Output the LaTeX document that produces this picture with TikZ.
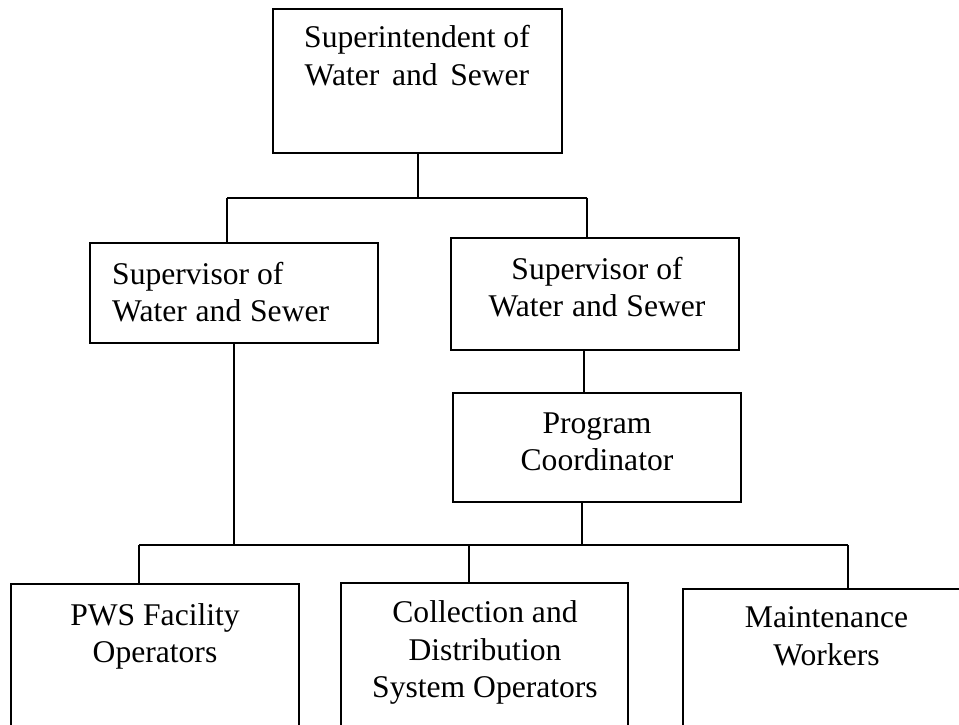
\documentclass[tikz,border=0pt]{standalone}
\usepackage{fontspec}
\setmainfont{Liberation Serif}
% stacked lines whose baseline is that of the first line
\newcommand\centrelines[1]{\vtop{\halign{\hfil##\hfil\cr#1\crcr}}}
\newcommand\leftlines[1]{\vtop{\halign{##\hfil\cr#1\crcr}}}
\newcommand\widegap{\hspace{0.4em}}
\newcommand\midgap{\hspace{0.28em}}

\begin{document}
\begin{tikzpicture}[x=1pt,y=-1pt,
  orgbox/.style={draw, line width=2pt, rectangle, inner sep=0pt},
  boxtext/.style={inner sep=0pt, anchor=base, font=\fontsize{31.6}{37.5}\selectfont},
  link/.style={line width=2pt}]
  \useasboundingbox (0,0) rectangle (959,725);
  \clip (0,0) rectangle (959,725);

  % boxes
  \node[orgbox, minimum width=289pt, minimum height=144pt] (top) at (417.5,81) {};
  \node[orgbox, minimum width=288pt, minimum height=100pt] (sv1) at (234,293) {};
  \node[orgbox, minimum width=288pt, minimum height=112pt] (sv2) at (595,294) {};
  \node[orgbox, minimum width=288pt, minimum height=109pt] (prog) at (597,447.5) {};
  \node[orgbox, minimum width=288pt, minimum height=176pt] (pws) at (155,672) {};
  \node[orgbox, minimum width=287pt, minimum height=177pt] (coll) at (484.5,671.5) {};
  \node[orgbox, minimum width=287pt, minimum height=171pt] (mnt) at (826.5,674.5) {};

  % texts
  \node[boxtext] (topT) at (417,48) {\centrelines{Superintendent of\cr Water\widegap and\widegap Sewer}};
  \node[boxtext, anchor=base west] (sv1T) at (112,284) {\leftlines{Supervisor of\cr Water\midgap and\midgap Sewer}};
  \node[boxtext] (sv2T) at (597,279) {\centrelines{Supervisor of\cr Water\midgap and\midgap Sewer}};
  \node[boxtext] (progT) at (597,433) {\centrelines{Program\cr Coordinator}};
  \node[boxtext] (pwsT) at (155,625) {\centrelines{PWS Facility\cr Operators}};
  \node[boxtext] (collT) at (485,622.7) {\centrelines{Collection and\cr Distribution\cr System Operators}};
  \node[boxtext] (mntT) at (826.5,627.7) {\centrelines{Maintenance\cr Workers}};

  % junction points
  \coordinate (barL) at (227,197.5);
  \coordinate (barR) at (587,197.5);
  \coordinate (busL) at (139,545);
  \coordinate (busC) at (469,545);
  \coordinate (busR) at (848,545);
  \coordinate (progIn) at (584,371);
  \coordinate (progOut) at (582,545);

  % upper tier
  \draw[link] (top.south) -- (top.south |- barL);
  \draw[link] (barL) -- (barR);
  \draw[link] (barL) -- (barL |- sv1.north);
  \draw[link] (barR) -- (barR |- sv2.north);

  % right branch
  \draw[link] (progIn |- sv2.south) -- (progIn |- prog.north);
  \draw[link] (progOut |- prog.south) -- (progOut);

  % lower tier
  \draw[link] (sv1.south) -- (sv1.south |- busL);
  \draw[link] (busL) -- (busR);
  \draw[link] (busL) -- (busL |- pws.north);
  \draw[link] (busC) -- (busC |- coll.north);
  \draw[link] (busR) -- (busR |- mnt.north);
\end{tikzpicture}
\end{document}
